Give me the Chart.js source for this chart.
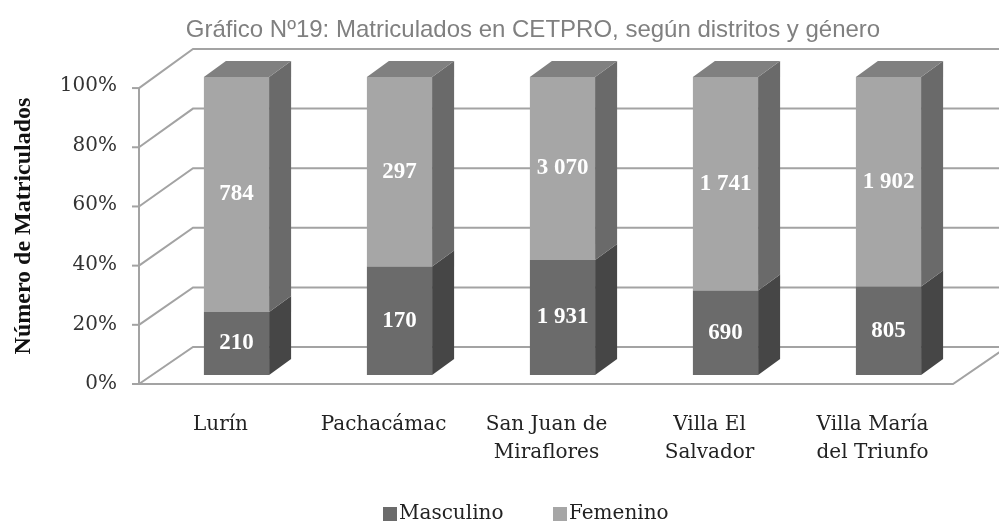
<!DOCTYPE html>
<html>
<head>
<meta charset="utf-8">
<script src="https://cdn.jsdelivr.net/npm/chart.js@4.4.1/dist/chart.umd.min.js"></script>
<style>
  html, body { margin: 0; padding: 0; background: #fff; overflow: hidden; }
  .c-chart { width: 999px; height: 521px; position: relative; }
</style>
</head>
<body>
<div class="c-chart"><canvas class="js-chart"></canvas></div>
<script>
const chartTitle = 'Gráfico Nº19: Matriculados en CETPRO, según distritos y género';
const districts = [['Lurín'], ['Pachacámac'], ['San Juan de', 'Miraflores'], ['Villa El', 'Salvador'], ['Villa María', 'del Triunfo']];
const masculino = [210, 170, 1931, 690, 805];
const femenino = [784, 297, 3070, 1741, 1902];
const seriesNames = ['Masculino', 'Femenino'];
const percentTicks = [0, 20, 40, 60, 80, 100];

// colours: front face, side face, top face
const mascColors = ['#6b6b6b', '#464646', '#5a5a5a'];
const femColors = ['#a6a6a6', '#6a6a6a', '#808080'];
const lineGray = '#a3a3a3';

const toPercent = function(part, i) {
  return part[i] / (masculino[i] + femenino[i]) * 100;
};
const mascPct = masculino.map((v, i) => toPercent(masculino, i));
const femPct = femenino.map((v, i) => toPercent(femenino, i));

const formatCount = function(n) {
  if (n < 1000) return String(n);
  return Math.floor(n / 1000) + ' ' + String(n % 1000).padStart(3, '0');
};

// fake 3D box: walls, floor, bar sides, labels, title, legend
const box3d = {
  id: 'box3d',
  beforeDatasetsDraw(chart) {
    const {ctx, chartArea, scales: {y}} = chart;
    const bottom = chartArea.bottom;
    const frontY = v => bottom + 9 - (bottom - y.getPixelForValue(v)) * 0.993;
    const backY = v => y.getPixelForValue(v) - 28;
    const fx = chartArea.left - 16;
    const bx = fx + 54;
    ctx.save();
    ctx.strokeStyle = lineGray;
    ctx.lineWidth = 2;
    for (const v of percentTicks) {
      ctx.beginPath();
      ctx.moveTo(fx, frontY(v));
      ctx.lineTo(bx, backY(v));
      ctx.lineTo(chart.width + 10, backY(v));
      ctx.stroke();
      ctx.beginPath();
      ctx.moveTo(fx - 7, frontY(v));
      ctx.lineTo(fx, frontY(v));
      ctx.stroke();
    }
    // front axis
    ctx.beginPath();
    ctx.moveTo(fx, frontY(100));
    ctx.lineTo(fx, frontY(0));
    ctx.stroke();
    // floor front and right edges
    const rx = chartArea.right - 17;
    ctx.beginPath();
    ctx.moveTo(fx, frontY(0));
    ctx.lineTo(rx, frontY(0));
    ctx.lineTo(rx + 54, backY(0));
    ctx.stroke();
    ctx.restore();
  },
  afterDatasetsDraw(chart) {
    const {ctx} = chart;
    const dx = 22, dy = -16;
    const masc = chart.getDatasetMeta(0).data;
    const fem = chart.getDatasetMeta(1).data;
    ctx.save();
    const face = function(pts, color) {
      ctx.fillStyle = color;
      ctx.beginPath();
      ctx.moveTo(pts[0][0], pts[0][1]);
      for (const p of pts.slice(1)) ctx.lineTo(p[0], p[1]);
      ctx.closePath();
      ctx.fill();
    };
    masc.forEach((m, i) => {
      const f = fem[i];
      const r = m.x + m.width / 2;
      const l = m.x - m.width / 2;
      face([[r, m.y], [r + dx, m.y + dy], [r + dx, m.base + dy], [r, m.base]], mascColors[1]);
      face([[r, f.y], [r + dx, f.y + dy], [r + dx, m.y + dy], [r, m.y]], femColors[1]);
      face([[l, f.y], [l + dx, f.y + dy], [r + dx, f.y + dy], [r, f.y]], femColors[2]);
      // counts
      ctx.fillStyle = '#ffffff';
      ctx.font = 'bold 23px "Liberation Serif"';
      ctx.textAlign = 'center';
      ctx.textBaseline = 'middle';
      ctx.fillText(formatCount(masculino[i]), m.x, (m.y + m.base) / 2);
      ctx.fillText(formatCount(femenino[i]), f.x, (f.y + f.base) / 2);
    });
    ctx.restore();
  },
  afterDraw(chart) {
    const {ctx} = chart;
    ctx.save();
    ctx.fillStyle = '#808080';
    ctx.font = '24px "Liberation Sans"';
    ctx.textAlign = 'center';
    ctx.textBaseline = 'alphabetic';
    ctx.fillText(chartTitle, 533, 37);
    // legend
    ctx.font = '20px "DejaVu Serif"';
    ctx.textAlign = 'left';
    const items = [[383, mascColors[0]], [553, femColors[0]]];
    items.forEach((it, i) => {
      ctx.fillStyle = it[1];
      ctx.fillRect(it[0], 507, 14, 14);
      ctx.fillStyle = '#222';
      ctx.fillText(seriesNames[i], it[0] + 16, 519);
    });
    ctx.restore();
  }
};

const ctx = document.querySelector('.js-chart').getContext('2d');
const chart = new Chart(ctx, {
  type: 'bar',
  data: {
    labels: districts,
    datasets: [{
      label: seriesNames[0],
      data: mascPct,
      backgroundColor: mascColors[0],
      borderWidth: 0
    }, {
      label: seriesNames[1],
      data: femPct,
      backgroundColor: femColors[0],
      borderWidth: 0
    }]
  },
  options: {
    responsive: true,
    maintainAspectRatio: false,
    animation: false,
    layout: { padding: { top: 77, right: 29, bottom: 55, left: 0 } },
    datasets: { bar: { categoryPercentage: 1, barPercentage: 0.4 } },
    plugins: {
      legend: { display: false },
      title: { display: false },
      tooltip: { enabled: false }
    },
    scales: {
      x: {
        stacked: true,
        grid: { display: false, drawTicks: false },
        border: { display: false },
        afterFit: function(scale) { scale.height = 91; },
        ticks: {
          autoSkip: false,
          maxRotation: 0,
          padding: 36,
          labelOffset: -16,
          color: '#222',
          font: { family: '"DejaVu Serif"', size: 20, lineHeight: 1.4 }
        }
      },
      y: {
        stacked: true,
        min: 0,
        max: 100,
        grid: { display: false, drawTicks: false },
        border: { display: false },
        afterFit: function(scale) { scale.width = 155; },
        ticks: {
          stepSize: 20,
          padding: 38,
          labelOffset: 9,
          color: '#333',
          font: { family: '"DejaVu Serif"', size: 20 },
          callback: v => v + '%'
        },
        title: {
          display: true,
          text: 'Número de Matriculados',
          color: '#111',
          padding: { top: 9, bottom: 0 },
          font: { family: '"Liberation Serif"', size: 24, weight: 'bold' }
        }
      }
    }
  },
  plugins: [box3d]
});
</script>
</body>
</html>
